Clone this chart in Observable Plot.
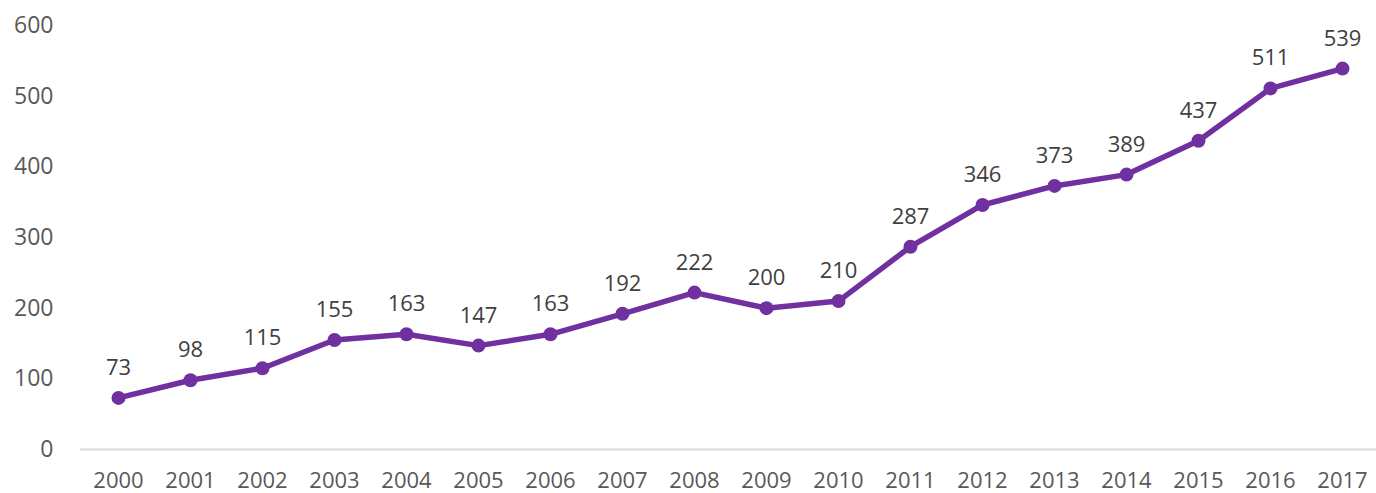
<!DOCTYPE html>
<html>
<head>
<meta charset="utf-8">
<script src="https://cdn.jsdelivr.net/npm/d3@7"></script>
<script src="https://cdn.jsdelivr.net/npm/@observablehq/plot@0.6"></script>
<style>
  html, body { margin: 0; padding: 0; background: #fff; }
  #chart svg { display: block; }
</style>
</head>
<body>
<div id="chart"></div>
<script>
const years = ["2000","2001","2002","2003","2004","2005","2006","2007","2008","2009","2010","2011","2012","2013","2014","2015","2016","2017"];
const values = [73, 98, 115, 155, 163, 147, 163, 192, 222, 200, 210, 287, 346, 373, 389, 437, 511, 539];
const yTicks = [0, 100, 200, 300, 400, 500, 600];

const data = years.map((y, i) => ({year: y, value: values[i]}));
const purple = "#7030A0";

const chart = Plot.plot({
  width: 1376,
  height: 493,
  marginLeft: 80,
  marginRight: 0,
  marginTop: 25,
  marginBottom: 44,
  style: {fontFamily: "'Open Sans', sans-serif", fontSize: "22px", color: "#595959", background: "#fff", overflow: "visible"},
  x: {type: "point", domain: years, padding: 0.5, range: [80, 1379], label: null},
  y: {domain: [0, 600], ticks: yTicks, label: null},
  marks: [
    Plot.axisY({ticks: yTicks, tickSize: 0, tickPadding: 27, fontSize: 23, fill: "#595959"}),
    Plot.axisX({tickSize: 0, tickPadding: 23, fontSize: 22, fill: "#595959"}),
    Plot.ruleY([0], {stroke: "#d9d9d9", strokeWidth: 2}),
    Plot.line(data, {x: "year", y: "value", stroke: purple, strokeWidth: 5.5, strokeLinejoin: "round"}),
    Plot.dot(data, {x: "year", y: "value", r: 7, fill: purple, stroke: "none"}),
    Plot.text(data, {x: "year", y: "value", text: d => String(d.value), dy: -30, fill: "#404040", fontSize: 22})
  ]
});
document.getElementById("chart").appendChild(chart);
</script>
</body>
</html>
